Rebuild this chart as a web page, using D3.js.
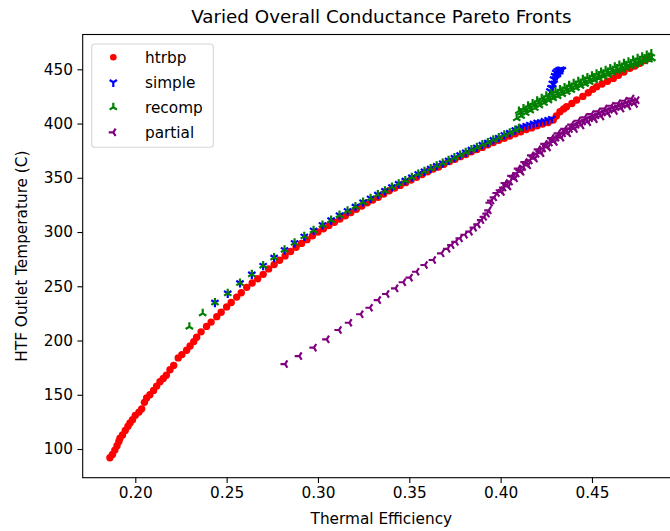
<!DOCTYPE html>
<html lang="en">
<head>
    <meta charset="utf-8" />
    <title>Varied Overall Conductance Pareto Fronts</title>
    <script src="https://cdnjs.cloudflare.com/ajax/libs/d3/7.8.5/d3.min.js"></script>
    <style>
        body { margin: 0; background: #fff; }
        text { font-family: "DejaVu Sans", sans-serif; fill: #000; }
    </style>
</head>
<body>
    <div id="vis"></div>
    <script type="text/javascript">
        // ---------------- data ----------------
        var htrbpEff = [0.1861, 0.1875, 0.1888, 0.1900, 0.1910, 0.1916, 0.1930, 0.1945, 0.1960, 0.1971, 0.1985, 0.2000,
            0.2020, 0.2035, 0.2050, 0.2062, 0.2080, 0.2100, 0.2117, 0.2135, 0.2153, 0.2170, 0.2190, 0.2210, 0.2235,
            0.2255, 0.2281, 0.2300, 0.2320, 0.2336, 0.2360, 0.2390, 0.2415, 0.2446, 0.2470, 0.2500, 0.2525, 0.2555,
            0.2580, 0.2610, 0.2640, 0.2670, 0.2700, 0.2730, 0.2760, 0.2790, 0.2820, 0.2850, 0.2880, 0.2910, 0.2940,
            0.2970, 0.3000, 0.3030, 0.3060, 0.3090, 0.3120, 0.3150, 0.3180, 0.3210, 0.3240, 0.3270, 0.3300, 0.3330,
            0.3360, 0.3390, 0.3420, 0.3450, 0.3480, 0.3510, 0.3540, 0.3570, 0.3600, 0.3630, 0.3660, 0.3690, 0.3720,
            0.3750, 0.3780, 0.3810, 0.3840, 0.3870, 0.3900, 0.3930, 0.3960, 0.3990, 0.4020, 0.4050, 0.4080, 0.4110,
            0.4140, 0.4170, 0.4200, 0.4230, 0.4260, 0.4288, 0.4305, 0.4325, 0.4345, 0.4361, 0.4390, 0.4416, 0.4450,
            0.4480, 0.4505, 0.4526, 0.4555, 0.4585, 0.4617, 0.4645, 0.4675, 0.4708, 0.4735, 0.4763, 0.4790, 0.4809];
        var htrbpTemp = [92, 95, 99, 103, 107, 110, 113, 117, 121, 124, 127, 131,
            134, 137, 143, 147, 150, 154, 158, 162, 165, 168, 173, 177, 184,
            187, 191, 195, 199, 203, 208, 213, 217, 222, 226, 231, 235, 240,
            244, 249, 253, 257, 261, 266, 270, 274, 278, 282, 286, 289.5, 293,
            296.5, 300, 303, 306, 309, 312, 315, 318, 321, 324, 327, 329.5, 332,
            335, 338, 340.5, 343, 345.5, 348, 350.5, 353, 355.5, 358, 360, 362.5, 365,
            367, 369.5, 371.5, 374, 376, 378, 380.5, 382.5, 384.5, 386.5, 388.5, 390.5, 392.5,
            394.5, 396, 398, 399.5, 401, 403.3, 407, 410.9, 413.5, 415.5, 418.5, 421.7, 425,
            428.4, 431.5, 434, 436.5, 439, 441.6, 444.5, 447.5, 450.9, 453, 455.5, 458, 460];

        var simpleEff = [0.2436, 0.2506, 0.2573, 0.2638, 0.2700, 0.2760, 0.2817, 0.2872, 0.2925, 0.2976, 0.3025,
            0.3072, 0.3118, 0.3162, 0.3205, 0.3247, 0.3288, 0.3328, 0.3367, 0.3405, 0.3442, 0.3478, 0.3514, 0.3549,
            0.3583, 0.3617, 0.3650, 0.3683, 0.3715, 0.3747, 0.3778, 0.3809, 0.3840, 0.3870, 0.3900, 0.3930, 0.3960,
            0.3990, 0.4020, 0.4050, 0.4080, 0.4100, 0.4120, 0.4140, 0.4160, 0.4180, 0.4200, 0.4220, 0.4240, 0.4260,
            0.4280,
            0.4270, 0.4276, 0.4283, 0.4290, 0.4296, 0.4302, 0.4310, 0.4320, 0.4330, 0.4338,
            0.4285, 0.4293, 0.4300, 0.4308, 0.4316, 0.4326];
        var simpleTemp = [235, 243.5, 253, 261, 269, 276.5, 283.5, 290, 296, 301.5, 306.5,
            311, 315.5, 319.5, 323.5, 327.5, 331, 334.5, 338, 341.5, 344.5, 347.5, 350.5, 353.5,
            356, 358.5, 361, 363.5, 366, 368.5, 371, 373.5, 376, 378, 380.5, 382.5, 385,
            387, 389.5, 391.5, 394, 395.5, 397, 398, 399, 400, 401, 401.5, 402.5, 403.5,
            404.5,
            430, 433, 437, 441, 444, 447, 448.5, 449.5, 450, 449.5,
            433, 437, 441, 444, 446, 447];

        var recompEff = [0.2296, 0.2369, 0.2436, 0.2506, 0.2573, 0.2638, 0.2700, 0.2760, 0.2817, 0.2872, 0.2925,
            0.2976, 0.3025, 0.3072, 0.3118, 0.3162, 0.3205, 0.3247, 0.3288, 0.3328, 0.3367, 0.3405, 0.3442, 0.3478,
            0.3514, 0.3549, 0.3583, 0.3617, 0.3650, 0.3683, 0.3715, 0.3747, 0.3778, 0.3809, 0.3840, 0.3870, 0.3900,
            0.3930, 0.3960, 0.3990, 0.4020, 0.4050, 0.4080, 0.4100,
            0.4088,
            0.4100, 0.4125, 0.4150, 0.4175, 0.4200, 0.4225, 0.4250, 0.4275, 0.4300, 0.4325, 0.4350, 0.4375, 0.4400,
            0.4425, 0.4450, 0.4475, 0.4500, 0.4525, 0.4550, 0.4575, 0.4600, 0.4625, 0.4650, 0.4675, 0.4700, 0.4725,
            0.4750, 0.4775, 0.4800, 0.4825,
            0.4112, 0.4137, 0.4162, 0.4187, 0.4212, 0.4237, 0.4262, 0.4287, 0.4312, 0.4337, 0.4362, 0.4387, 0.4412,
            0.4437, 0.4462, 0.4487, 0.4512, 0.4537, 0.4562, 0.4587, 0.4612, 0.4637, 0.4662, 0.4687, 0.4712, 0.4737,
            0.4762, 0.4787, 0.4812, 0.4828,
            0.41125, 0.41375, 0.41625, 0.41875, 0.42125, 0.42375, 0.42625, 0.42875, 0.43125, 0.43375, 0.43625,
            0.43875, 0.44125, 0.44375, 0.44625, 0.44875, 0.45125, 0.45375, 0.45625, 0.45875, 0.46125, 0.46375,
            0.46625, 0.46875, 0.47125, 0.47375, 0.47625, 0.47875, 0.48125];
        var recompTemp = [212.7, 225, 235, 243.5, 253, 261, 269, 276.5, 283.5, 290, 296,
            301.5, 306.5, 311, 315.5, 319.5, 323.5, 327.5, 331, 334.5, 338, 341.5, 344.5, 347.5,
            350.5, 353.5, 356, 358.5, 361, 363.5, 366, 368.5, 371, 373.5, 376, 378, 380.5,
            382.5, 385, 387, 389.5, 391.5, 394, 395.5,
            404.8,
            411.5, 413.8, 416.2, 418.5, 420.9, 423.2, 425.5, 427.5, 429.4, 431.3, 433.2, 435.1, 437,
            438.9, 440.7, 442.4, 444, 445.7, 447.4, 449, 450.7, 452.3, 453.8, 455.4, 456.9, 458.4,
            460, 461.5, 463, 464.5,
            407, 409.6, 412, 414.3, 416.7, 419, 421.3, 423.3, 425.2, 427.1, 429, 430.9, 432.8,
            434.7, 436.5, 438.2, 439.8, 441.5, 443.2, 444.8, 446.5, 448.1, 449.6, 451.2, 452.7, 454.2,
            455.8, 457.3, 458.8, 460,
            410.2, 412.5, 414.9, 417.2, 419.6, 421.9, 424, 426, 427.9, 429.8, 431.7,
            433.6, 435.5, 437.3, 439.1, 440.7, 442.4, 444.1, 445.7, 447.4, 449, 450.6,
            452.1, 453.7, 455.2, 456.7, 458.3, 459.8, 461.3];

        var partialEff = [0.2820, 0.2898, 0.2978, 0.3048, 0.3115, 0.3172, 0.3234, 0.3285, 0.3330, 0.3376, 0.3425,
            0.3467, 0.3504, 0.3540, 0.3586, 0.3631, 0.3677, 0.3710, 0.3732, 0.3755, 0.3778, 0.3805, 0.3832, 0.3855,
            0.3875, 0.3895, 0.3910, 0.3925, 0.3935, 0.3942, 0.3950, 0.3965, 0.3980, 0.3998, 0.4016, 0.4034, 0.4052,
            0.4070, 0.4088, 0.4106, 0.4124, 0.4142, 0.4160, 0.4179, 0.4197, 0.4215, 0.4233, 0.4251, 0.4270, 0.4288,
            0.4306, 0.4324, 0.4342, 0.4360, 0.4380, 0.4398, 0.4416, 0.4434, 0.4452, 0.4470, 0.4490, 0.4507, 0.4525,
            0.4543, 0.4561, 0.4580, 0.4598, 0.4617, 0.4635, 0.4653, 0.4671, 0.4690, 0.4708, 0.4726, 0.4745,
            0.4007, 0.4043, 0.4079, 0.4115, 0.4151, 0.4188, 0.4224, 0.4260, 0.4297, 0.4333, 0.4370, 0.4407, 0.4443,
            0.4480, 0.4516, 0.4552, 0.4589, 0.4626, 0.4662, 0.4699, 0.4736,
            0.4025, 0.4061, 0.4097, 0.4133, 0.4169, 0.4206, 0.4242, 0.4279, 0.4315, 0.4351, 0.4389, 0.4425, 0.4461,
            0.4498, 0.4534, 0.4570, 0.4607, 0.4644, 0.4680, 0.4717];
        var partialTemp = [178.3, 185.7, 193.4, 201.1, 209.7, 216.4, 224.2, 230.2, 237.3, 242.9, 248.1,
            253.7, 257.9, 263.4, 269.6, 274.2, 280.4, 284.5, 288, 291, 294.2, 297.5, 300.3, 304,
            307, 311, 314, 317, 320, 327, 329, 332, 336, 338.5, 341, 343.5, 346.5,
            351, 354, 357, 360, 363, 366, 369.4, 372, 374.5, 377, 379.5, 382.5, 384.8,
            387, 389, 391, 393, 395, 397.1, 398.8, 400.5, 402, 403.5, 405, 406.3, 407.6,
            408.9, 410.2, 411.5, 412.8, 414, 415.2, 416.3, 417.4, 418.5, 419.5, 420.5, 421.5,
            337, 342, 349.5, 355.5, 361.5, 367.7, 372.7, 378, 383, 387, 391, 395, 398.2,
            401.2, 404, 406.5, 409.1, 411.6, 413.8, 416, 418,
            345.2, 351.7, 358.5, 364.5, 370.6, 376.2, 381.2, 386.6, 391, 395, 399, 402.6, 405.7,
            408.6, 411.2, 413.8, 416.4, 418.7, 421, 423];

        var xTicks = [0.20, 0.25, 0.30, 0.35, 0.40, 0.45];
        var yTicks = [100, 150, 200, 250, 300, 350, 400, 450];

        var seriesNames = ["htrbp", "simple", "recomp", "partial"];
        var seriesColors = ["red", "blue", "green", "purple"];
        var seriesMarkers = ["dot", "triDown", "triUp", "triLeft"];

        // ---------------- layout ----------------
        var width = 670, height = 531;
        var plotLeft = 82.7, plotRight = 680, plotTop = 34.5, plotBottom = 477.7;

        var svg = d3.select("#vis").append("svg")
            .attr("width", width)
            .attr("height", height);

        var x = d3.scaleLinear().domain([0.1712, 0.4982]).range([plotLeft, plotRight]);
        var y = d3.scaleLinear().domain([73.55, 482.08]).range([plotBottom, plotTop]);

        svg.append("clipPath").attr("id", "plotClip")
            .append("rect")
            .attr("x", plotLeft).attr("y", plotTop)
            .attr("width", plotRight - plotLeft).attr("height", plotBottom - plotTop);

        function markerPath(kind, r) {
            var p = d3.path();
            if (kind === "triDown") {
                p.moveTo(0, 0); p.lineTo(0, r);
                p.moveTo(0, 0); p.lineTo(0.8 * r, -0.5 * r);
                p.moveTo(0, 0); p.lineTo(-0.8 * r, -0.5 * r);
            } else if (kind === "triUp") {
                p.moveTo(0, 0); p.lineTo(0, -r);
                p.moveTo(0, 0); p.lineTo(0.8 * r, 0.5 * r);
                p.moveTo(0, 0); p.lineTo(-0.8 * r, 0.5 * r);
            } else {
                p.moveTo(0, 0); p.lineTo(-r, 0);
                p.moveTo(0, 0); p.lineTo(0.5 * r, 0.8 * r);
                p.moveTo(0, 0); p.lineTo(0.5 * r, -0.8 * r);
            }
            return p.toString();
        }

        function drawMarkers(g, pts, kind, color) {
            if (kind === "dot") {
                g.selectAll("circle").data(pts).enter().append("circle")
                    .attr("cx", function (d) { return x(d[0]); })
                    .attr("cy", function (d) { return y(d[1]); })
                    .attr("r", 3.7)
                    .attr("fill", color);
            } else {
                g.selectAll("path").data(pts).enter().append("path")
                    .attr("transform", function (d) { return "translate(" + x(d[0]) + "," + y(d[1]) + ")"; })
                    .attr("d", markerPath(kind, 4.6))
                    .attr("fill", "none")
                    .attr("stroke", color)
                    .attr("stroke-width", 2.2);
            }
        }

        var effs = [htrbpEff, simpleEff, recompEff, partialEff];
        var temps = [htrbpTemp, simpleTemp, recompTemp, partialTemp];

        var plot = svg.append("g").attr("clip-path", "url(#plotClip)");
        for (var i = 0; i < seriesNames.length; i++) {
            var pts = effs[i].map(function (v, j) { return [v, temps[i][j]]; });
            drawMarkers(plot.append("g"), pts, seriesMarkers[i], seriesColors[i]);
        }

        // axes
        var xAxis = svg.append("g")
            .attr("transform", "translate(0," + plotBottom + ")")
            .call(d3.axisBottom(x).tickValues(xTicks).tickFormat(d3.format(".2f")).tickSize(5.3).tickPadding(4.5));
        var yAxis = svg.append("g")
            .attr("transform", "translate(" + plotLeft + ",0)")
            .call(d3.axisLeft(y).tickValues(yTicks).tickFormat(d3.format("d")).tickSize(5.3).tickPadding(4.5));

        [xAxis, yAxis].forEach(function (a) {
            a.select(".domain").remove();
            a.selectAll(".tick line").attr("stroke", "#000").attr("stroke-width", 1.1);
            a.selectAll(".tick text").attr("font-size", "15.3px").attr("fill", "#000")
                .style("font-family", "DejaVu Sans, sans-serif");
        });

        // spines
        svg.append("rect")
            .attr("x", plotLeft).attr("y", plotTop)
            .attr("width", plotRight - plotLeft).attr("height", plotBottom - plotTop)
            .attr("fill", "none")
            .attr("stroke", "#000")
            .attr("stroke-width", 1.1);

        // titles
        svg.append("text")
            .attr("x", (plotLeft + plotRight) / 2).attr("y", 23)
            .attr("text-anchor", "middle")
            .attr("font-size", "18.3px")
            .text("Varied Overall Conductance Pareto Fronts");

        svg.append("text")
            .attr("x", (plotLeft + plotRight) / 2).attr("y", 524)
            .attr("text-anchor", "middle")
            .attr("font-size", "15.3px")
            .text("Thermal Efficiency");

        svg.append("text")
            .attr("transform", "translate(27," + ((plotTop + plotBottom) / 2) + ") rotate(-90)")
            .attr("text-anchor", "middle")
            .attr("font-size", "15.3px")
            .text("HTF Outlet Temperature (C)");

        // legend
        var legend = svg.append("g");
        legend.append("rect")
            .attr("x", 91.7).attr("y", 44)
            .attr("width", 121.6).attr("height", 103.3)
            .attr("rx", 3)
            .attr("fill", "#fff").attr("fill-opacity", 0.8)
            .attr("stroke", "#d6d6d6").attr("stroke-width", 1.1);

        seriesNames.forEach(function (name, i) {
            var cy = 57.3 + i * 25;
            var row = legend.append("g");
            if (seriesMarkers[i] === "dot") {
                row.append("circle").attr("cx", 113.3).attr("cy", cy).attr("r", 3.3).attr("fill", seriesColors[i]);
            } else {
                row.append("path")
                    .attr("transform", "translate(113.3," + cy + ")")
                    .attr("d", markerPath(seriesMarkers[i], 4.6))
                    .attr("fill", "none")
                    .attr("stroke", seriesColors[i])
                    .attr("stroke-width", 2.2);
            }
            row.append("text")
                .attr("x", 145).attr("y", cy)
                .attr("dy", "0.35em")
                .attr("font-size", "15.3px")
                .text(name);
        });
    </script>
</body>
</html>
